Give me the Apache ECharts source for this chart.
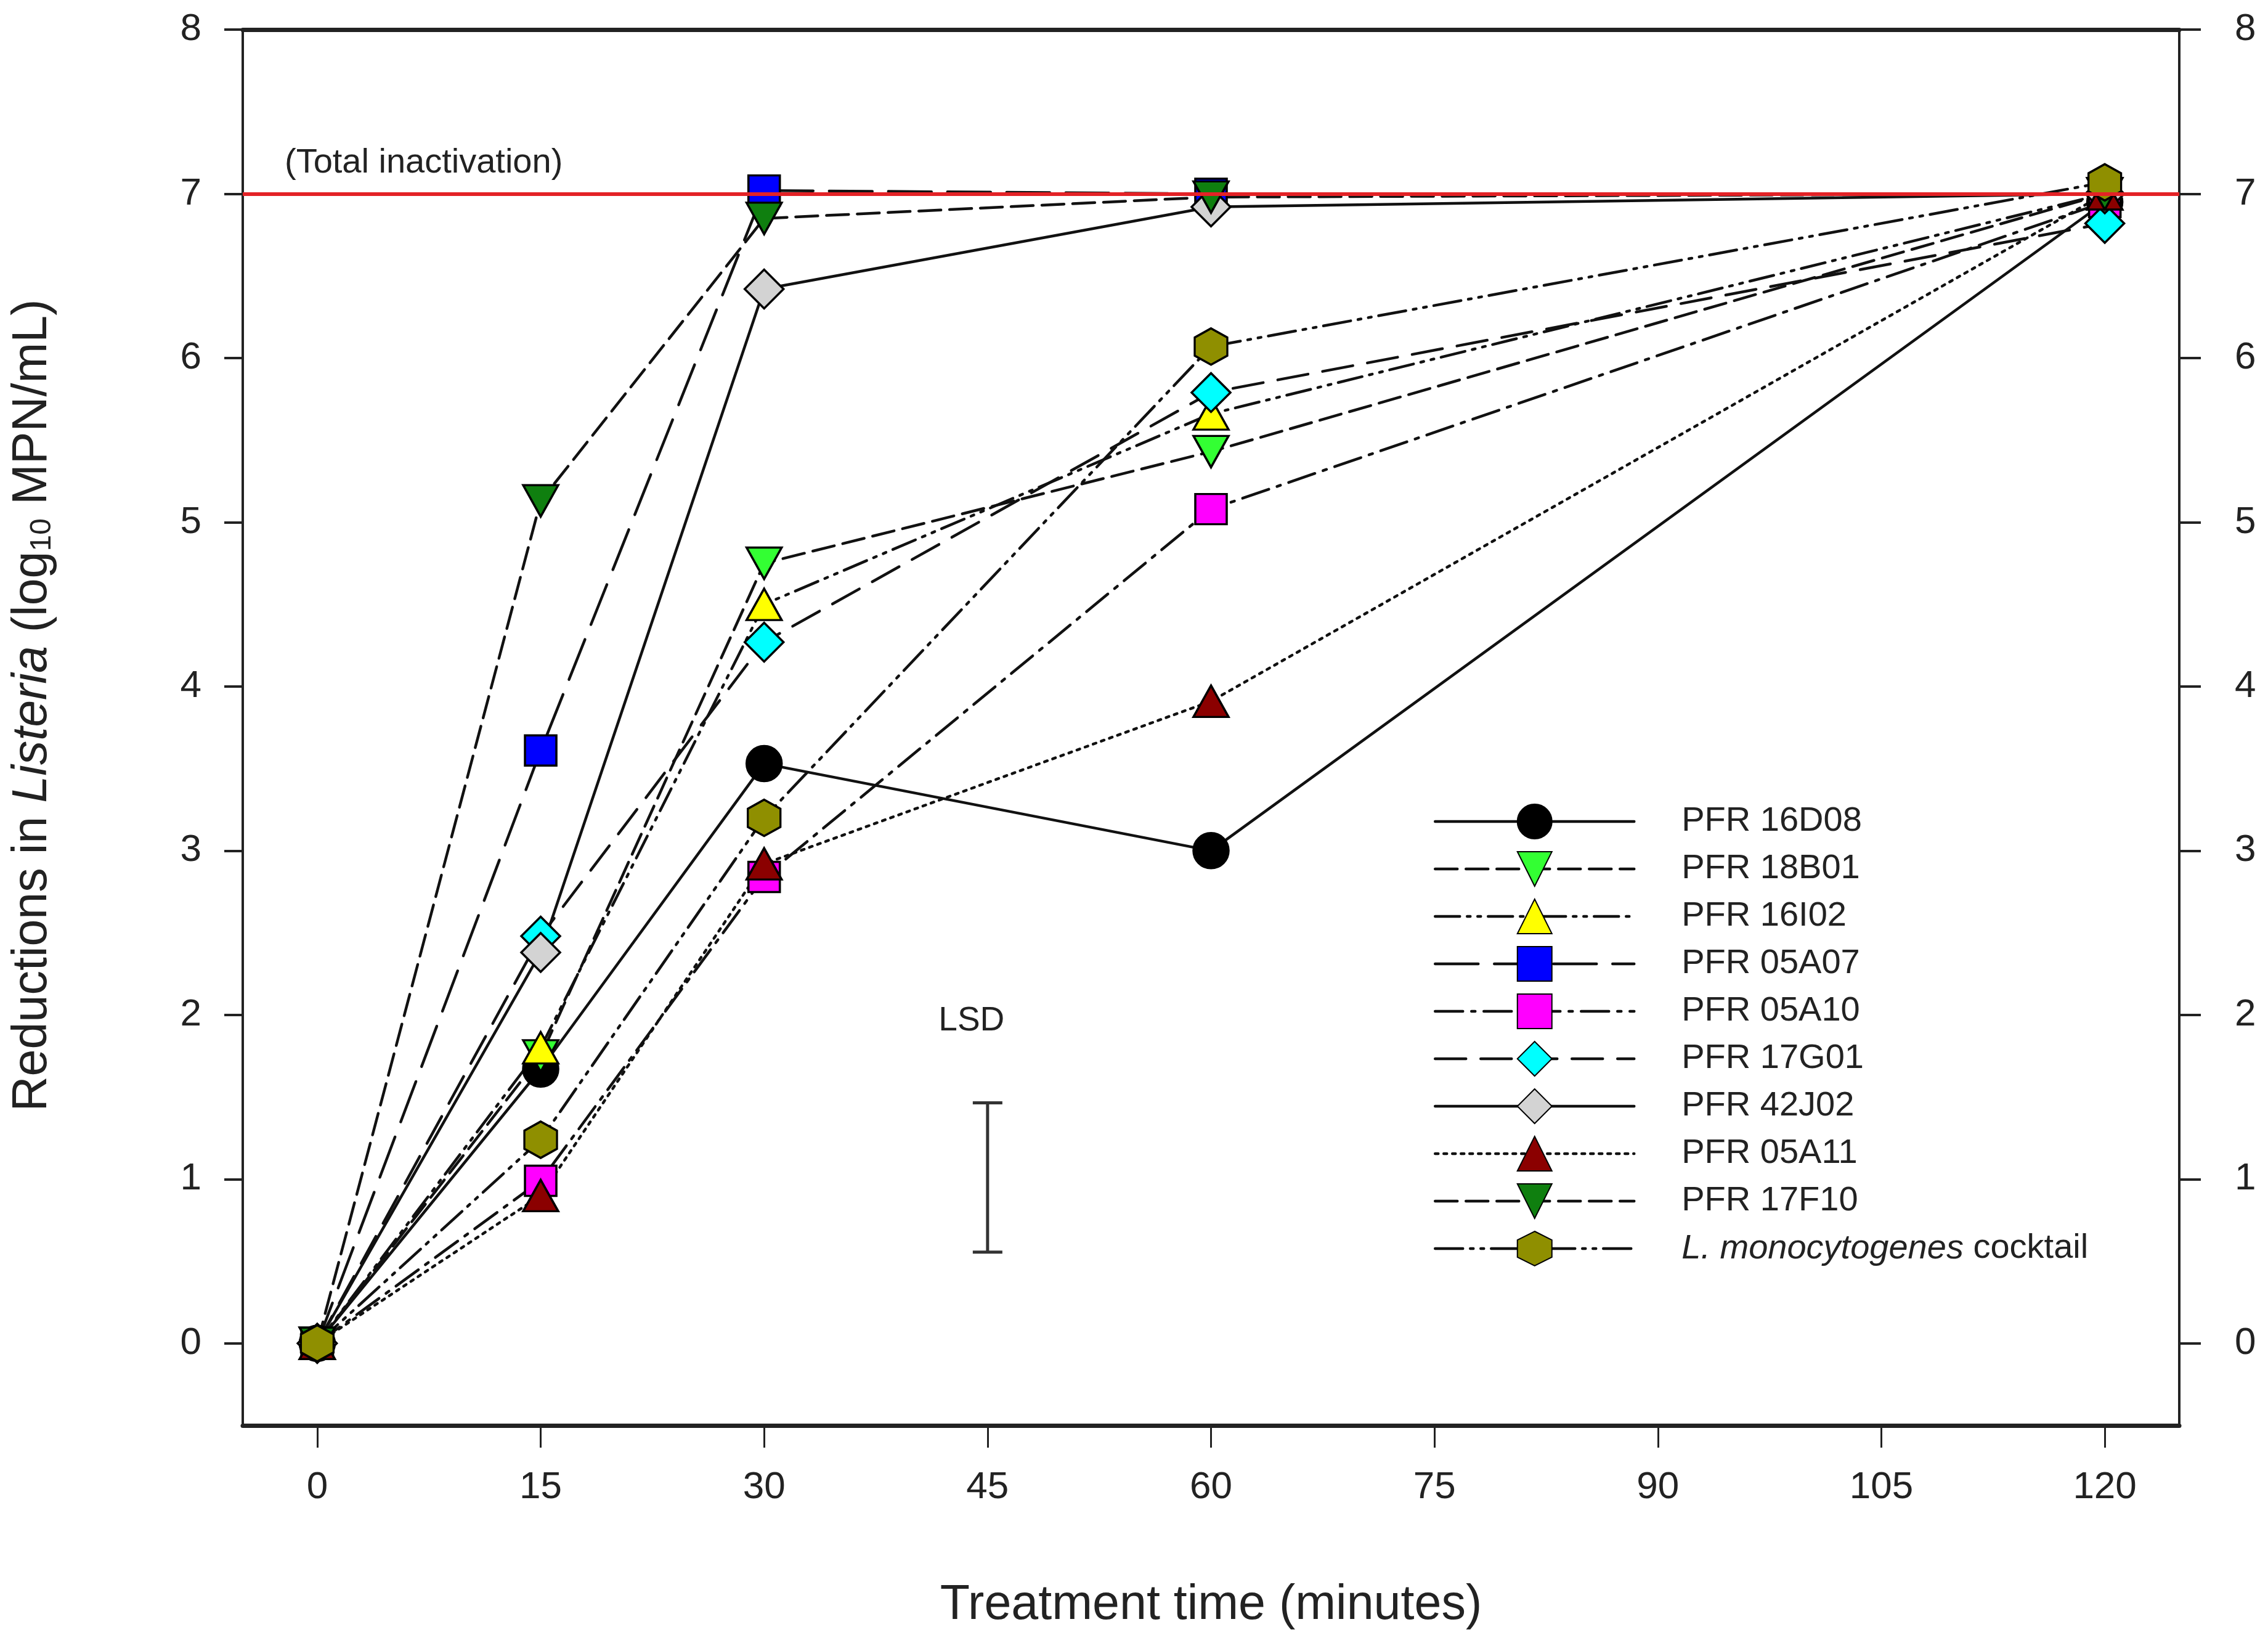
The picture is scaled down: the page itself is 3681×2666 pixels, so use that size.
<!DOCTYPE html>
<html>
<head>
<meta charset="utf-8">
<title>Listeria reductions</title>
<script src="https://cdn.jsdelivr.net/npm/echarts@6/dist/echarts.min.js"></script>
<style>
html,body{margin:0;padding:0;background:#fff}
#chart{width:3681px;height:2666px}
</style>
</head>
<body>
<div id="chart"></div>
<script>
// treatment times (min) and axis ticks
var times = [0, 15, 30, 60, 120];
var xTicks = [0, 15, 30, 45, 60, 75, 90, 105, 120];
var yTicks = [0, 1, 2, 3, 4, 5, 6, 7, 8];

var strains = ['PFR 16D08', 'PFR 18B01', 'PFR 16I02', 'PFR 05A07', 'PFR 05A10',
  'PFR 17G01', 'PFR 42J02', 'PFR 05A11', 'PFR 17F10', 'L. monocytogenes cocktail'];

// log10 reductions
var pfr16D08 = [0, 1.67, 3.53, 3.00, 6.95];
var pfr18B01 = [0, 1.75, 4.75, 5.43, 7.00];
var pfr16I02 = [0, 1.80, 4.50, 5.66, 7.00];
var pfr05A07 = [0, 3.61, 7.02, 7.00, 7.00];
var pfr05A10 = [0, 0.99, 2.84, 5.08, 6.95];
var pfr17G01 = [0, 2.48, 4.27, 5.79, 6.82];
var pfr42J02 = [0, 2.38, 6.42, 6.92, 7.00];
var pfr05A11 = [0, 0.90, 2.92, 3.91, 7.00];
var pfr17F10 = [0, 5.13, 6.85, 6.98, 7.00];
var cocktail = [0, 1.24, 3.20, 6.07, 7.07];

var totalInactivation = 7;
var lsdTime = 45, lsdLow = 0.555, lsdHigh = 1.465;

var values = [pfr16D08, pfr18B01, pfr16I02, pfr05A07, pfr05A10,
  pfr17G01, pfr42J02, pfr05A11, pfr17F10, cocktail];

var FONT = 'Liberation Sans, Arial, sans-serif';
var hexagon = 'path://M50,0 L93.3,25 L93.3,75 L50,100 L6.7,75 L6.7,25 Z';

var looks = [
  {symbol: 'circle', size: 57, fill: '#000000', dash: 'solid'},
  {symbol: 'triangle', rotate: 180, size: [57, 51], fill: '#33ff33', dash: [36, 14]},
  {symbol: 'triangle', size: [57, 51], fill: '#ffff00', dash: [40, 12, 5, 12, 5, 12]},
  {symbol: 'rect', size: [51, 49], fill: '#0000ff', dash: [70, 26]},
  {symbol: 'rect', size: [51, 49], fill: '#ff00ff', dash: [45, 14, 6, 14]},
  {symbol: 'diamond', size: 63, fill: '#00ffff', dash: [50, 24]},
  {symbol: 'diamond', size: 63, fill: '#d3d3d3', dash: 'solid'},
  {symbol: 'triangle', size: [57, 51], fill: '#8b0000', dash: [5, 9]},
  {symbol: 'triangle', rotate: 180, size: [57, 51], fill: '#0f7f0f', dash: [36, 14]},
  {symbol: hexagon, size: [53, 59], fill: '#8f8f00', dash: [45, 12, 5, 12, 5, 12]}
];

var series = strains.map(function (name, i) {
  var lk = looks[i];
  return {
    name: name,
    type: 'line',
    data: times.map(function (t, j) { return [t, values[i][j]]; }),
    symbol: lk.symbol,
    symbolSize: lk.size,
    symbolRotate: lk.rotate || 0,
    showAllSymbol: true,
    lineStyle: {color: '#111', width: 4.5, type: lk.dash, cap: 'round'},
    itemStyle: {color: lk.fill, borderColor: '#000', borderWidth: 3.5},
    emphasis: {disabled: true}
  };
});

// red reference line for total inactivation
series[0].markLine = {
  silent: true,
  symbol: 'none',
  lineStyle: {color: '#e32226', width: 6, type: 'solid'},
  label: {
    show: true,
    position: 'insideStartTop',
    distance: [68, 22],
    formatter: '(Total inactivation)',
    fontFamily: FONT,
    fontSize: 56,
    color: '#222'
  },
  data: [{yAxis: totalInactivation}]
};

// LSD bar
series.push({
  type: 'custom',
  silent: true,
  z: 3,
  data: [[lsdTime, lsdLow, lsdHigh]],
  renderItem: function (params, api) {
    var top = api.coord([api.value(0), api.value(2)]);
    var bot = api.coord([api.value(0), api.value(1)]);
    var cap = 24;
    var st = {stroke: '#333', lineWidth: 5};
    return {
      type: 'group',
      children: [
        {type: 'line', shape: {x1: top[0], y1: top[1], x2: bot[0], y2: bot[1]}, style: st},
        {type: 'line', shape: {x1: top[0] - cap, y1: top[1], x2: top[0] + cap, y2: top[1]}, style: st},
        {type: 'line', shape: {x1: bot[0] - cap, y1: bot[1], x2: bot[0] + cap, y2: bot[1]}, style: st},
        {type: 'text', x: top[0] - 26, y: top[1] - 133,
          style: {text: 'LSD', fontFamily: FONT, fontSize: 55, fill: '#222', align: 'center', verticalAlign: 'middle'}}
      ]
    };
  }
});

var axisLineStyle = {color: '#222', width: 4};

var option = {
  animation: false,
  backgroundColor: '#fff',
  grid: {left: 394, right: 144, top: 48, bottom: 353},
  legend: {
    data: strains,
    orient: 'vertical',
    left: 2322,
    top: 1299,
    itemWidth: 323,
    itemHeight: 70,
    itemGap: 19,
    selectedMode: false,
    lineStyle: {width: 4.5, color: '#111'},
    textStyle: {
      fontFamily: FONT, fontSize: 56, color: '#222', padding: [0, 0, 0, 72],
      rich: {i: {fontFamily: FONT, fontSize: 56, fontStyle: 'italic', color: '#222'}}
    },
    formatter: function (name) {
      return name === strains[9] ? '{i|L. monocytogenes} cocktail' : name;
    }
  },
  xAxis: [{
    type: 'value', position: 'bottom', min: -5, max: 125,
    name: 'Treatment time (minutes)', nameLocation: 'middle', nameGap: 253,
    nameTextStyle: {fontFamily: FONT, fontSize: 79, color: '#222'},
    axisLine: {onZero: false, lineStyle: {color: '#222', width: 7}},
    axisTick: {show: true, customValues: xTicks, length: 36, lineStyle: {color: '#222', width: 3}},
    axisLabel: {customValues: xTicks, margin: 70, fontFamily: FONT, fontSize: 62, color: '#222'},
    splitLine: {show: false}
  }, {
    type: 'value', position: 'top', min: -5, max: 125,
    axisLine: {onZero: false, lineStyle: {color: '#222', width: 7}},
    axisTick: {show: false}, axisLabel: {show: false}, splitLine: {show: false}
  }],
  yAxis: [{
    type: 'value', position: 'left', min: -0.5, max: 8,
    name: 'Reductions in {i|Listeria} (log{sub|10} MPN/mL)',
    nameLocation: 'middle', nameGap: 301,
    nameTextStyle: {
      fontFamily: FONT, fontSize: 79, color: '#222', padding: [0, 0, 0, 72],
      rich: {
        i: {fontFamily: FONT, fontSize: 79, fontStyle: 'italic', color: '#222'},
        sub: {fontFamily: FONT, fontSize: 48, color: '#222', verticalAlign: 'bottom', lineHeight: 48}
      }
    },
    axisLine: {show: true, onZero: false, lineStyle: axisLineStyle},
    axisTick: {show: true, customValues: yTicks, length: 30, lineStyle: {color: '#222', width: 4}},
    axisLabel: {customValues: yTicks, margin: 67, fontFamily: FONT, fontSize: 62, color: '#222'},
    splitLine: {show: false}
  }, {
    type: 'value', position: 'right', min: -0.5, max: 8,
    axisLine: {show: true, onZero: false, lineStyle: axisLineStyle},
    axisTick: {show: true, customValues: yTicks, length: 35, lineStyle: {color: '#222', width: 4}},
    axisLabel: {customValues: yTicks, margin: 90, fontFamily: FONT, fontSize: 62, color: '#222'},
    splitLine: {show: false}
  }],
  series: series
};

var chart = echarts.init(document.getElementById('chart'));
chart.setOption(option);
</script>
</body>
</html>
